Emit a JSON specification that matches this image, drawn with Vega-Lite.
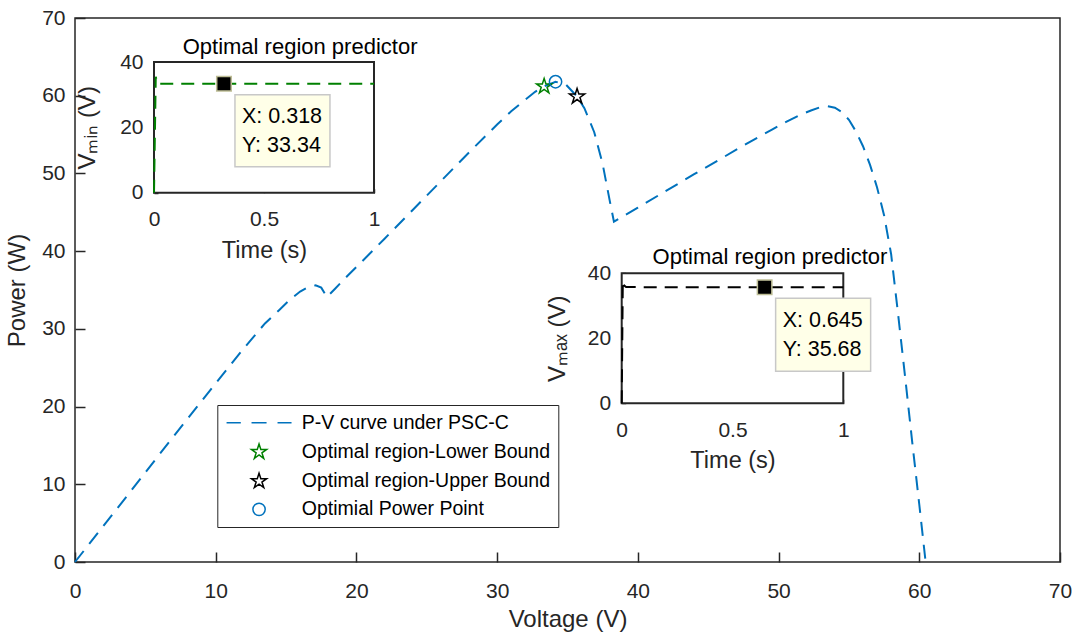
{
  "$schema": "https://vega.github.io/schema/vega-lite/v6.json",
  "width": 985,
  "height": 544,
  "autosize": "none",
  "padding": {"left": 75, "top": 18, "right": 13, "bottom": 71},
  "background": "white",
  "config": {
    "font": "Liberation Sans",
    "view": {"stroke": "#262626", "strokeWidth": 1.5},
    "axis": {
      "labelFont": "Liberation Sans", "titleFont": "Liberation Sans",
      "labelColor": "#262626", "titleColor": "#262626", "titleFontWeight": "normal",
      "grid": false, "labelFlush": false, "labelOverlap": false, "labelBound": false,
      "tickColor": "#262626", "tickWidth": 1.5, "domain": false, "zindex": 1
    },
    "text": {"font": "Liberation Sans"}
  },
  "resolve": {"scale": {"x": "independent", "y": "independent"}},
  "layer": [
    {
      "data": {"values": [
        {"V": 0, "P": 0}, {"V": 2, "P": 4.6}, {"V": 4, "P": 9.2}, {"V": 6, "P": 13.85},
        {"V": 8, "P": 18.45}, {"V": 10, "P": 23.0}, {"V": 12, "P": 27.5}, {"V": 13.5, "P": 30.7},
        {"V": 14.5, "P": 32.4}, {"V": 15.3, "P": 33.8}, {"V": 16.0, "P": 34.8}, {"V": 16.6, "P": 35.4},
        {"V": 17.1, "P": 35.6}, {"V": 17.5, "P": 35.3}, {"V": 17.9, "P": 34.1}, {"V": 18.5, "P": 35.2},
        {"V": 19.3, "P": 36.7}, {"V": 20.3, "P": 38.5}, {"V": 22, "P": 41.6}, {"V": 24, "P": 45.3},
        {"V": 26, "P": 49.0}, {"V": 28, "P": 52.7}, {"V": 30, "P": 56.3}, {"V": 31, "P": 58.0},
        {"V": 32, "P": 59.5}, {"V": 32.7, "P": 60.5}, {"V": 33.34, "P": 61.2}, {"V": 34.15, "P": 61.8},
        {"V": 34.9, "P": 61.4}, {"V": 35.68, "P": 59.9}, {"V": 36.2, "P": 58.4}, {"V": 36.9, "P": 55.3},
        {"V": 37.5, "P": 51.2}, {"V": 38.0, "P": 46.5}, {"V": 38.3, "P": 43.8}, {"V": 40, "P": 45.6},
        {"V": 42, "P": 47.75}, {"V": 44, "P": 49.9}, {"V": 46, "P": 52.0}, {"V": 48, "P": 54.1},
        {"V": 49.5, "P": 55.6}, {"V": 50.5, "P": 56.6}, {"V": 51.5, "P": 57.5}, {"V": 52.3, "P": 58.1},
        {"V": 53.0, "P": 58.55}, {"V": 53.5, "P": 58.65}, {"V": 54.0, "P": 58.45}, {"V": 54.5, "P": 57.9},
        {"V": 55.0, "P": 56.9}, {"V": 55.5, "P": 55.4}, {"V": 56.0, "P": 53.5}, {"V": 56.5, "P": 51.1},
        {"V": 57.0, "P": 48.2}, {"V": 57.5, "P": 44.6}, {"V": 58.0, "P": 39.6}, {"V": 58.5, "P": 31.8},
        {"V": 59.0, "P": 23.7}, {"V": 59.5, "P": 15.4}, {"V": 60.0, "P": 7.4}, {"V": 60.45, "P": 0}
      ]},
      "encoding": {
        "x": {"field": "V", "type": "quantitative",
          "scale": {"domain": [0, 70], "nice": false, "zero": false},
          "axis": {"orient": "bottom", "values": [0, 10, 20, 30, 40, 50, 60, 70], "tickSize": -10,
            "labelPadding": 28, "labelFontSize": 21, "title": "Voltage (V)", "titleFontSize": 24, "titlePadding": 6}},
        "y": {"field": "P", "type": "quantitative",
          "scale": {"domain": [0, 70], "nice": false, "zero": false},
          "axis": {"orient": "left", "values": [0, 10, 20, 30, 40, 50, 60, 70], "tickSize": -10,
            "labelPadding": 20, "labelFontSize": 21, "title": "Power (W)", "titleFontSize": 24, "titlePadding": 12}}
      },
      "layer": [
        {"mark": {"type": "line", "color": "#0072BD", "strokeWidth": 2, "strokeDash": [14, 9]}},
        {
          "data": {"values": [
            {"V": 33.34, "P": 61.2, "series": "Optimal region-Lower Bound"},
            {"V": 35.68, "P": 59.9, "series": "Optimal region-Upper Bound"},
            {"V": 34.15, "P": 61.8, "series": "Optimial Power Point"}
          ]},
          "mark": {"type": "point", "filled": false, "strokeWidth": 1.5, "size": 256, "opacity": 1},
          "encoding": {
            "color": {"field": "series", "type": "nominal",
              "scale": {"domain": ["P-V curve under PSC-C", "Optimal region-Lower Bound", "Optimal region-Upper Bound", "Optimial Power Point"],
                "range": ["#0072BD", "#008000", "#000000", "#0072BD"]},
              "legend": {"title": null, "orient": "none", "legendX": 142.3, "legendY": 387,
                "labelFontSize": 19.5, "labelColor": "#000000", "labelFont": "Liberation Sans", "labelLimit": 400,
                "symbolSize": 256, "symbolStrokeWidth": 1.5, "symbolOffset": 24, "labelOffset": 33,
                "padding": 8, "rowPadding": 7.2, "strokeColor": "#262626", "fillColor": "#ffffff"}},
            "shape": {"field": "series", "type": "nominal",
              "scale": {"domain": ["P-V curve under PSC-C", "Optimal region-Lower Bound", "Optimal region-Upper Bound", "Optimial Power Point"],
                "range": [
                  "M-4.06,0H-2.28M-0.94,0H0.94M2.31,0H4.06",
                  "M0,-1L0.225,-0.309L0.951,-0.309L0.363,0.118L0.588,0.809L0,0.382L-0.588,0.809L-0.363,0.118L-0.951,-0.309L-0.225,-0.309Z",
                  "M0,-1L0.225,-0.309L0.951,-0.309L0.363,0.118L0.588,0.809L0,0.382L-0.588,0.809L-0.363,0.118L-0.951,-0.309L-0.225,-0.309Z",
                  "M0.77,0A0.77,0.77,0,1,1,-0.77,0A0.77,0.77,0,1,1,0.77,0Z"
                ]},
              "legend": {"title": null, "orient": "none", "legendX": 142.3, "legendY": 387,
                "labelFontSize": 19.5, "labelColor": "#000000", "labelFont": "Liberation Sans", "labelLimit": 400,
                "symbolSize": 256, "symbolStrokeWidth": 1.5, "symbolOffset": 24, "labelOffset": 33,
                "padding": 8, "rowPadding": 7.2, "strokeColor": "#262626", "fillColor": "#ffffff"}}
          }
        }
      ]
    },
    {
      "data": {"values": [{"t": 0.318, "v": 33.34, "lx": "X: 0.318", "ly": "Y: 33.34", "title": "Optimal region predictor"}]},
      "encoding": {
        "x": {"field": "t", "type": "quantitative",
          "scale": {"domain": [0, 1], "range": [79, 299], "nice": false, "zero": false},
          "axis": {"orient": "bottom", "offset": -369.3, "values": [0, 0.5, 1], "format": "~g", "tickSize": -4,
            "labelPadding": 20, "labelFontSize": 21, "title": "Time (s)", "titleFontSize": 23.5, "titlePadding": 9}},
        "y": {"field": "v", "type": "quantitative",
          "scale": {"domain": [0, 40], "range": [174.7, 44], "nice": false, "zero": false},
          "axis": {"orient": "left", "offset": -79, "values": [0, 20, 40], "tickSize": -4,
            "labelPadding": 15, "labelFontSize": 21, "title": "Vₘᵢₙ (V)", "titleFontSize": 24, "titlePadding": 20}}
      },
      "layer": [
        {"mark": {"type": "rect", "fill": "#ffffff", "stroke": "#262626", "strokeWidth": 2},
          "encoding": {"x": {"datum": 0, "type": "quantitative"}, "x2": {"datum": 1}, "y": {"datum": 0, "type": "quantitative"}, "y2": {"datum": 40}}},
        {"data": {"values": [
            {"t": 0, "v": 0}, {"t": 0.008, "v": 35.5}, {"t": 0.016, "v": 33.34}, {"t": 1, "v": 33.34}
          ]},
          "mark": {"type": "line", "color": "#008000", "strokeWidth": 2, "strokeDash": [13, 8]}},
        {"mark": {"type": "rect", "fill": "#FFFFE8", "stroke": "#C8C8C8", "strokeWidth": 1.5,
           "xOffset": 11, "x2Offset": 106, "yOffset": 11, "y2Offset": 83},
         "encoding": {"x2": {"field": "t"}, "y2": {"field": "v"}}},
        {"mark": {"type": "text", "align": "left", "baseline": "middle", "dx": 18, "dy": 33, "fontSize": 21.5, "color": "#000000"},
         "encoding": {"text": {"field": "lx"}}},
        {"mark": {"type": "text", "align": "left", "baseline": "middle", "dx": 18, "dy": 62, "fontSize": 21.5, "color": "#000000"},
         "encoding": {"text": {"field": "ly"}}},
        {"mark": {"type": "square", "size": 210, "filled": true, "color": "#000000", "stroke": "#BEBE96", "strokeWidth": 1.5, "opacity": 1}},
        {"mark": {"type": "text", "align": "center", "baseline": "middle", "fontSize": 22, "color": "#000000"},
         "encoding": {"x": {"datum": 0.664}, "y": {"datum": 44.6}, "text": {"field": "title"}}}
      ]
    },
    {
      "data": {"values": [{"t": 0.645, "v": 35.68, "lx": "X: 0.645", "ly": "Y: 35.68", "title": "Optimal region predictor"}]},
      "encoding": {
        "x": {"field": "t", "type": "quantitative",
          "scale": {"domain": [0, 1], "range": [546.7, 768.3], "nice": false, "zero": false},
          "axis": {"orient": "bottom", "offset": -158.7, "values": [0, 0.5, 1], "format": "~g", "tickSize": -4,
            "labelPadding": 20, "labelFontSize": 21, "title": "Time (s)", "titleFontSize": 23.5, "titlePadding": 8}},
        "y": {"field": "v", "type": "quantitative",
          "scale": {"domain": [0, 40], "range": [385.3, 255.3], "nice": false, "zero": false},
          "axis": {"orient": "left", "offset": -546.7, "values": [0, 20, 40], "tickSize": -4,
            "labelPadding": 15, "labelFontSize": 21, "title": "Vₘₐₓ (V)", "titleFontSize": 24, "titlePadding": 18}}
      },
      "layer": [
        {"mark": {"type": "rect", "fill": "#ffffff", "stroke": "#262626", "strokeWidth": 2},
          "encoding": {"x": {"datum": 0, "type": "quantitative"}, "x2": {"datum": 1}, "y": {"datum": 0, "type": "quantitative"}, "y2": {"datum": 40}}},
        {"data": {"values": [
            {"t": 0, "v": 0}, {"t": 0.005, "v": 37.6}, {"t": 0.01, "v": 36.3}, {"t": 0.02, "v": 35.75}, {"t": 1, "v": 35.68}
          ]},
          "mark": {"type": "line", "color": "#000000", "strokeWidth": 2, "strokeDash": [13, 8]}},
        {"mark": {"type": "rect", "fill": "#FFFFE8", "stroke": "#C8C8C8", "strokeWidth": 1.5,
           "xOffset": 11, "x2Offset": 106, "yOffset": 11, "y2Offset": 84},
         "encoding": {"x2": {"field": "t"}, "y2": {"field": "v"}}},
        {"mark": {"type": "text", "align": "left", "baseline": "middle", "dx": 18, "dy": 34, "fontSize": 21.5, "color": "#000000"},
         "encoding": {"text": {"field": "lx"}}},
        {"mark": {"type": "text", "align": "left", "baseline": "middle", "dx": 18, "dy": 63, "fontSize": 21.5, "color": "#000000"},
         "encoding": {"text": {"field": "ly"}}},
        {"mark": {"type": "square", "size": 210, "filled": true, "color": "#000000", "stroke": "#BEBE96", "strokeWidth": 1.5, "opacity": 1}},
        {"mark": {"type": "text", "align": "center", "baseline": "middle", "fontSize": 22, "color": "#000000"},
         "encoding": {"x": {"datum": 0.669}, "y": {"datum": 45.1}, "text": {"field": "title"}}}
      ]
    }
  ]
}
